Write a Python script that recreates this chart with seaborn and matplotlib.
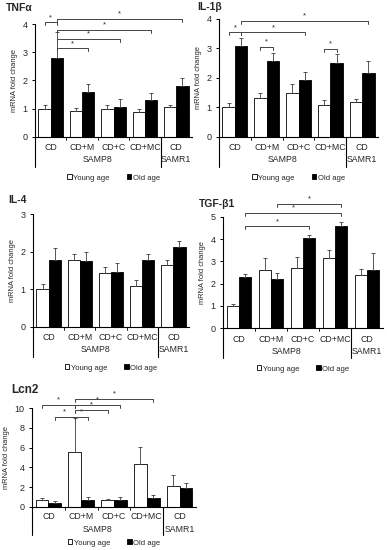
import numpy as np
import pandas as pd
import matplotlib
matplotlib.use("Agg")
import matplotlib.pyplot as plt
import matplotlib.transforms as mtransforms
from matplotlib.patches import Patch
import seaborn as sns

# ---- data ----
groups = ["CD", "CD+M", "CD+C", "CD+MC", "CD"]
strains = ["SAMP8", "SAMR1"]
ages = ["Young age", "Old age"]

tnfa_young = [1.00, 0.93, 0.99, 0.89, 1.06]
tnfa_young_err = [0.15, 0.10, 0.15, 0.10, 0.08]
tnfa_old = [2.80, 1.60, 1.07, 1.30, 1.80]
tnfa_old_err = [0.92, 0.28, 0.27, 0.25, 0.30]
tnfa_sig = [(0, "Y", 0, "O", 4.06), (0, "O", 1, "O", 3.14), (0, "O", 2, "O", 3.47),
            (0, "O", 3, "O", 3.79), (0, "O", 4, "O", 4.18)]

il1b_young = [1.00, 1.33, 1.50, 1.10, 1.17]
il1b_young_err = [0.14, 0.15, 0.30, 0.17, 0.12]
il1b_old = [3.07, 2.59, 1.93, 2.52, 2.16]
il1b_old_err = [0.28, 0.25, 0.26, 0.28, 0.40]
il1b_sig = [(0, "Y", 0, "O", 3.55), (0, "O", 2, "O", 3.55), (0, "O", 4, "O", 3.94),
            (1, "Y", 1, "O", 3.05), (3, "Y", 3, "O", 2.98)]

il4_young = [1.00, 1.78, 1.43, 1.10, 1.65]
il4_young_err = [0.15, 0.15, 0.15, 0.15, 0.13]
il4_old = [1.78, 1.75, 1.45, 1.78, 2.13]
il4_old_err = [0.33, 0.23, 0.25, 0.15, 0.15]
il4_sig = []

tgfb_young = [1.00, 2.60, 2.70, 3.17, 2.40]
tgfb_young_err = [0.10, 0.55, 0.50, 0.35, 0.27]
tgfb_old = [2.30, 2.20, 4.05, 4.60, 2.60]
tgfb_old_err = [0.12, 0.30, 0.15, 0.17, 0.77]
tgfb_sig = [(0, "O", 2, "O", 4.59), (0, "O", 3, "O", 5.18), (1, "O", 3, "O", 5.59)]

lcn2_young = [0.75, 5.55, 0.75, 4.35, 2.15]
lcn2_young_err = [0.12, 3.40, 0.10, 1.75, 1.05]
lcn2_old = [0.45, 0.68, 0.75, 0.92, 1.93]
lcn2_old_err = [0.15, 0.30, 0.22, 0.25, 0.52]
lcn2_sig = [(0, "Y", 1, "Y", 10.3), (1, "Y", 2, "O", 10.3), (1, "Y", 2, "Y", 9.8),
            (0, "O", 1, "Y", 9.1), (1, "Y", 1, "O", 9.1), (1, "Y", 3, "O", 10.9)]

W, H = 387, 550

sns.set_theme(style="white")
plt.rcParams["font.family"] = ["Liberation Sans", "DejaVu Sans"]

fig = plt.figure(figsize=(W / 100, H / 100), dpi=100)


def panel(box, title, title_xy, title_size, young, young_err, old, old_err, ymax, ystep, sig,
          offs=(11, 23, 30, 41)):
    left, right, top, bottom = box
    ax = fig.add_axes([left / W, 1 - bottom / H, (right - left) / W, (bottom - top) / H])
    ax_h = bottom - top

    slots = [f"{g}_{i}" for i, g in enumerate(groups)]
    df = pd.DataFrame({
        "slot": slots * 2,
        "age": [ages[0]] * 5 + [ages[1]] * 5,
        "value": list(young) + list(old),
    })
    sns.barplot(data=df, x="slot", y="value", hue="age", order=slots, hue_order=ages,
                palette={ages[0]: "white", ages[1]: "black"}, edgecolor="black",
                linewidth=0.6, width=0.78, errorbar=None, legend=False, ax=ax)

    pos = {}
    for key, cont, err in zip(["Y", "O"], ax.containers, [young_err, old_err]):
        xs = np.array([b.get_x() + b.get_width() / 2 for b in cont])
        hs = np.array([b.get_height() for b in cont])
        pos[key] = xs
        ax.errorbar(xs, hs, yerr=[np.zeros(len(err)), err], fmt="none", ecolor="#3a3a3a",
                    elinewidth=0.6, capsize=1.4, capthick=0.6, zorder=1)

    ax.set_xlim(-0.5, 4.5)
    ax.set_ylim(0, ymax)
    ax.set_yticks(np.arange(0, ymax + 0.01, ystep))
    ax.set_yticklabels([f"{v:g}" for v in np.arange(0, ymax + 0.01, ystep)], fontsize=6.5)
    ax.tick_params(axis="y", length=2.5, width=0.7, direction="out", pad=3, left=True, color="black")
    ax.tick_params(axis="x", length=0, labelbottom=False)
    ax.set_xlabel("")
    ax.set_ylabel("mRNA fold change", fontsize=5.4, labelpad=3)
    for s in ["top", "right"]:
        ax.spines[s].set_visible(False)
    for s in ["left", "bottom"]:
        ax.spines[s].set_linewidth(0.8)
        ax.spines[s].set_color("black")

    # significance brackets
    d = ymax * 3 / ax_h
    for i1, s1, i2, s2, y in sig:
        x1, x2 = pos[s1][i1], pos[s2][i2]
        ax.plot([x1, x1, x2, x2], [y - d, y, y, y - d], color="#444444", lw=0.7,
                clip_on=False, zorder=5)
        ax.text((x1 + x2) / 2, y + d * 0.4, "*", ha="center", va="bottom", fontsize=5.5,
                clip_on=False)

    # multi level category axis
    lab_off, grp_off, line_off, leg_off = offs
    tr = mtransforms.blended_transform_factory(ax.transData, ax.transAxes)
    f = 1 / ax_h
    for xb in [-0.5, 3.5]:
        ax.plot([xb, xb], [0, -line_off * f], transform=tr, color="black", lw=0.8, clip_on=False)
    for xb in [0.5, 1.5, 2.5]:
        ax.plot([xb, xb], [0, -3 * f], transform=tr, color="black", lw=0.6, clip_on=False)
    for i, g in enumerate(groups):
        ax.text(i, -lab_off * f, g, transform=tr, ha="center", va="center", fontsize=6.3)
    ax.text(1.5, -grp_off * f, strains[0], transform=tr, ha="center", va="center", fontsize=6.3)
    ax.text(4.0, -grp_off * f, strains[1], transform=tr, ha="center", va="center", fontsize=6.3)

    handles = [Patch(facecolor="white", edgecolor="black", lw=0.6),
               Patch(facecolor="black", edgecolor="black", lw=0.6)]
    ax.legend(handles, ages, loc="center", bbox_to_anchor=(0.5, -leg_off * f), ncol=2,
              frameon=False, fontsize=5.5, handlelength=0.6, handleheight=0.6,
              handletextpad=0.2, columnspacing=2.2, borderpad=0)

    fig.text(title_xy[0] / W, 1 - title_xy[1] / H, title, fontsize=title_size,
             fontweight="bold", ha="left", va="center")
    return ax


panel((35, 192, 24, 137), "TNFα", (6, 8), 7.5, tnfa_young, tnfa_young_err, tnfa_old, tnfa_old_err, 4, 1, tnfa_sig)
panel((219, 378, 19, 137), "IL-1β", (197, 7), 7.5, il1b_young, il1b_young_err, il1b_old, il1b_old_err, 4, 1, il1b_sig)
panel((33, 189, 214, 327), "IL-4", (8, 200), 7.5, il4_young, il4_young_err, il4_old, il4_old_err, 3, 1, il4_sig)
panel((223, 383, 217, 328), "TGF-β1", (199, 204), 7.5, tgfb_young, tgfb_young_err, tgfb_old, tgfb_old_err, 5, 1, tgfb_sig)
panel((32, 196, 408, 507), "Lcn2", (11, 390), 8.5, lcn2_young, lcn2_young_err, lcn2_old, lcn2_old_err, 10, 2, lcn2_sig,
      offs=(9.5, 22, 28, 36))

fig.savefig("out.png", dpi=100)
